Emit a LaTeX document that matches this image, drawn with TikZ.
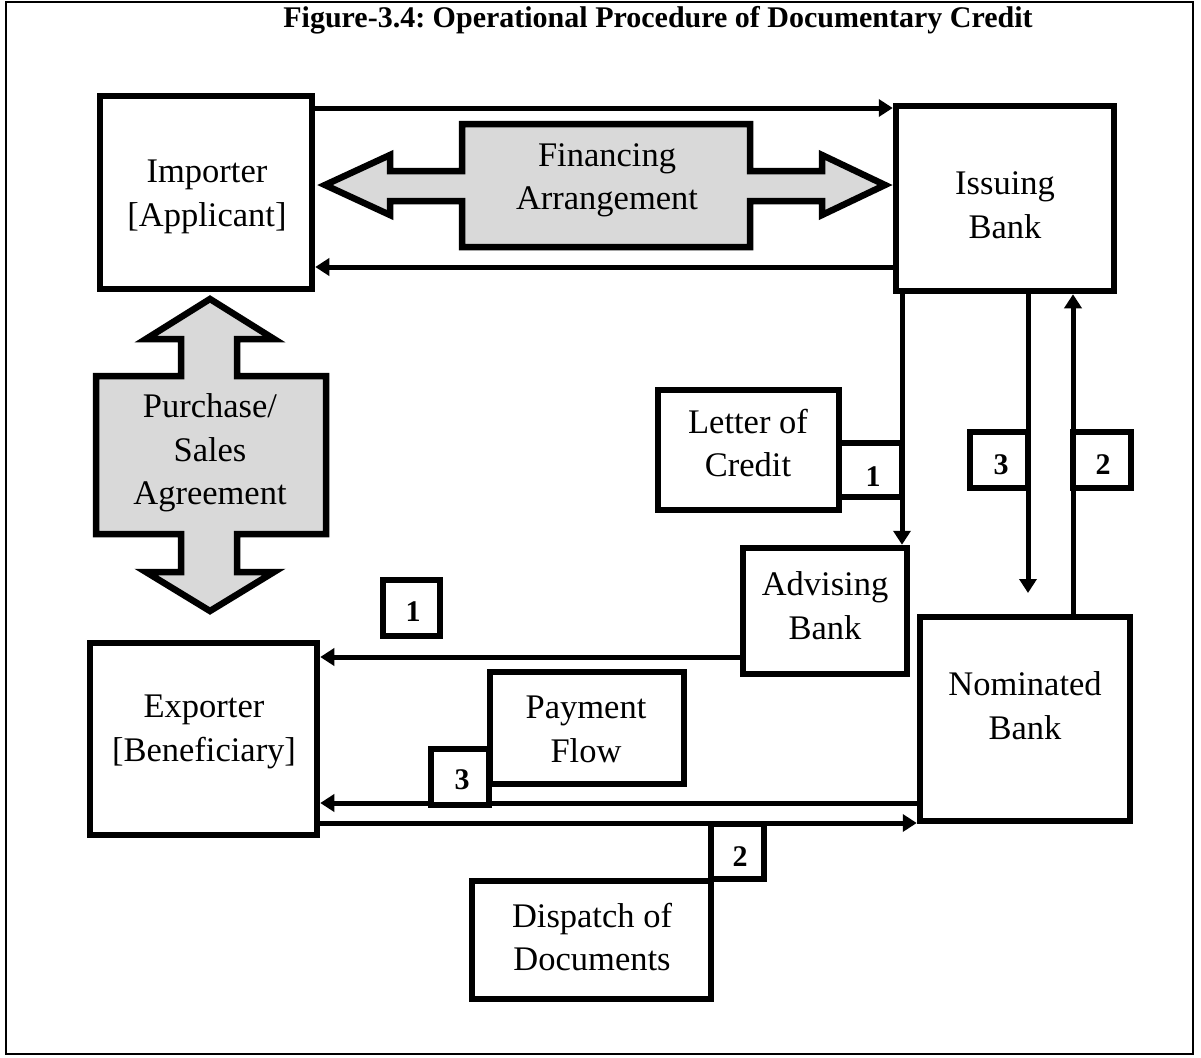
\documentclass[tikz,border=0pt]{standalone}
\usepackage{fontspec}
\setmainfont{Liberation Serif}
\usetikzlibrary{arrows.meta,calc}
\definecolor{blockgray}{HTML}{D9D9D9}
\frenchspacing
\begin{document}
\begin{tikzpicture}[x=1pt,y=-1pt,
  box/.style={draw,line width=6.5pt,inner sep=0pt,fill=white},
  numbox/.style={draw,line width=6.5pt,inner sep=0pt,fill=white},
  lbl/.style={align=center,font=\fontsize{34.5}{43.5}\selectfont,inner sep=0pt},
  num/.style={font=\fontsize{30}{34}\selectfont\bfseries,inner sep=0pt},
  arr/.style={line width=5pt,-{Triangle[length=14pt,width=17pt]}},
  blk/.style={draw,line width=6.5pt,fill=blockgray,line join=miter}]
\useasboundingbox (0,0) rectangle (1201,1057);
\draw[line width=2pt] (6,2) rectangle (1193,1054);
\node[font=\fontsize{30}{34}\selectfont\bfseries,anchor=base,inner sep=0pt] (title) at (658,28) {Figure-3.4: Operational Procedure of Documentary Credit};

% main boxes
\node[box,minimum width=212pt,minimum height=193pt] (importer) at (206,192.5) {};
\node[box,minimum width=218pt,minimum height=185pt] (issuing) at (1005,198.5) {};
\node[box,minimum width=227pt,minimum height=192pt] (exporter) at (203.5,739) {};
\node[box,minimum width=210pt,minimum height=204pt] (nominated) at (1025,719) {};
\node[box,minimum width=164pt,minimum height=126pt] (advising) at (825,611) {};
\node[box,minimum width=181pt,minimum height=120pt] (loc) at (748.5,450) {};
\node[box,minimum width=194pt,minimum height=112pt] (payment) at (587,728) {};
\node[box,minimum width=239pt,minimum height=118pt] (dispatch) at (591.5,940) {};

% block arrows
\draw[blk] (325,185) -- (390,155) -- (390,171) -- (462,171) -- (462,124) -- (750,124)
  -- (750,171) -- (822,171) -- (822,155) -- (885,185) -- (822,215) -- (822,201)
  -- (750,201) -- (750,247) -- (462,247) -- (462,201) -- (390,201) -- (390,215) -- cycle;
\draw[blk] (210,299) -- (274,339) -- (237,339) -- (237,376) -- (326,376) -- (326,534)
  -- (237,534) -- (237,572) -- (274,572) -- (210,611) -- (146,572) -- (181,572)
  -- (181,534) -- (96,534) -- (96,376) -- (181,376) -- (181,339) -- (146,339) -- cycle;

% connectors
\coordinate (yTop) at (0,108);
\coordinate (yRet) at (0,267);
\coordinate (xLC) at (902,0);
\coordinate (x3) at (1028,0);
\coordinate (end3) at (1028,593);
\coordinate (x2) at (1073,0);
\coordinate (yAdv) at (0,657);
\coordinate (yPay) at (0,803);
\coordinate (yDoc) at (0,823);
\draw[arr] (importer.east |- yTop) -- (issuing.west |- yTop);
\draw[arr] (issuing.west |- yRet) -- (importer.east |- yRet);
\draw[arr] (issuing.south -| xLC) -- (advising.north -| xLC);
\draw[arr] (issuing.south -| x3) -- (end3);
\draw[arr] (nominated.north -| x2) -- (issuing.south -| x2);
\draw[arr] (advising.west |- yAdv) -- (exporter.east |- yAdv);
\draw[arr] (nominated.west |- yPay) -- (exporter.east |- yPay);
\draw[arr] (exporter.east |- yDoc) -- (nominated.west |- yDoc);

% numbered boxes
\node[numbox,minimum width=63pt,minimum height=54pt] (n1a) at (870.5,470) {};
\node[numbox,minimum width=58pt,minimum height=56pt] (n3a) at (999,460) {};
\node[numbox,minimum width=58pt,minimum height=56pt] (n2a) at (1102,460) {};
\node[numbox,minimum width=57pt,minimum height=56pt] (n1b) at (411.5,608) {};
\node[numbox,minimum width=58pt,minimum height=56pt] (n3b) at (460,777) {};
\node[numbox,minimum width=53pt,minimum height=55pt] (n2b) at (737.5,851.5) {};
\node[num] (t1a) at (873,477) {1};
\node[num] (t3a) at (1001,465) {3};
\node[num] (t2a) at (1103,465) {2};
\node[num] (t1b) at (413,612) {1};
\node[num] (t3b) at (462,780) {3};
\node[num] (t2b) at (740,857) {2};

% labels
\node[lbl] (timporter) at (207,197) {Importer\\{}[Applicant]};
\node[lbl] (tfin) at (607,180.5) {Financing\\Arrangement};
\node[lbl] (tissuing) at (1005,205) {Issuing\\Bank};
\node[lbl] (tpurchase) at (210,453) {Purchase/\\Sales\\Agreement};
\node[lbl] (tloc) at (748,443) {Letter of\\Credit};
\node[lbl] (tadvising) at (825,605.5) {Advising\\Bank};
\node[lbl] (tnominated) at (1025,705.5) {Nominated\\Bank};
\node[lbl] (texporter) at (204,732) {Exporter\\{}[Beneficiary]};
\node[lbl] (tpayment) at (586,729.5) {Payment\\Flow};
\node[lbl] (tdispatch) at (592,937) {Dispatch of\\Documents};
\end{tikzpicture}
\end{document}
